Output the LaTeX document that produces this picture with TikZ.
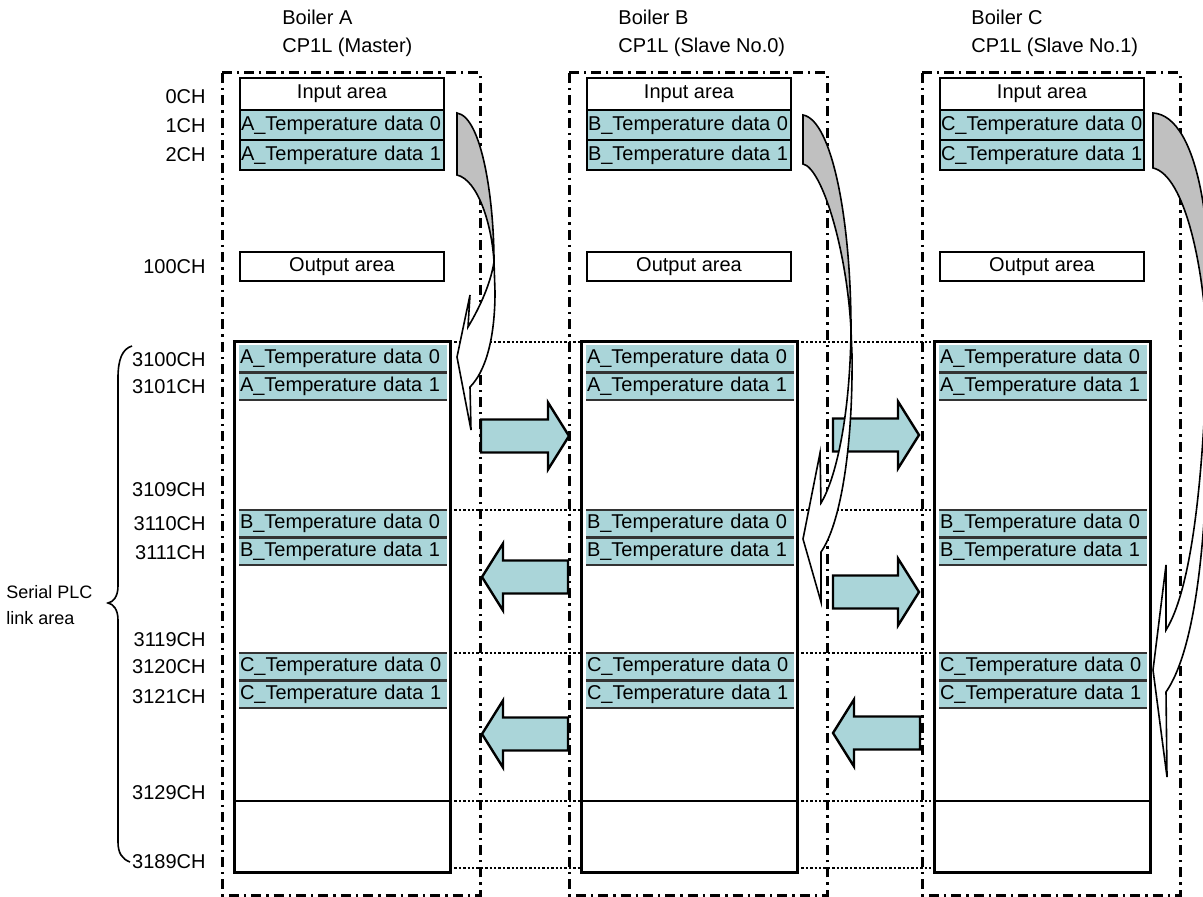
\documentclass[tikz,border=0pt]{standalone}
\usepackage{fontspec}
\setmainfont{Liberation Sans}
\definecolor{slotcol}{RGB}{170,213,217}
\definecolor{twistgray}{RGB}{192,192,192}
\definecolor{sepgray}{RGB}{51,51,51}
\begin{document}
\begin{tikzpicture}[x=0.5pt, y=-0.5pt,
  frame/.style={line width=1.5pt, dash pattern=on 5pt off 2.5pt on 1.2pt off 2.5pt},
  area/.style={draw, line width=1pt, fill=white, anchor=north west, outer sep=0pt,
               minimum width=102pt, minimum height=#1, inner sep=0pt},
  data/.style={area=15pt, fill=slotcol, text width=101pt, align=left, inner xsep=0.5pt},
  linkbox/.style={draw, line width=1.5pt, anchor=north west, outer sep=0pt,
                  minimum width=108pt, minimum height=265pt, inner sep=0pt},
  slot/.style={fill=slotcol, anchor=north west, outer sep=0pt, minimum height=13.75pt,
               text width=103pt, inner xsep=0.5pt, inner ysep=0pt, align=left},
  sep/.style={draw=sepgray, line width=1.3pt},
  link/.style={line width=1.3pt, dash pattern=on 1.2pt off 1pt},
  chlbl/.style={anchor=east, inner sep=0pt},
  xfer/.style={draw, fill=slotcol, line width=1.2pt, line join=miter},
  back/.style={draw, fill=twistgray, line width=0.8pt},
  front/.style={draw, fill=white, line width=0.8pt},
]
\useasboundingbox (0,0) rectangle (1203,897);
% one column per boiler
\foreach \c/\fx/\hx/\role in {A/222/282/Master, B/569/618/Slave No.0, C/922/971/Slave No.1} {
  \draw[frame] (\fx,73) rectangle ({\fx+258},895);
  \node[anchor=base west, inner sep=0pt] (name\c) at (\hx,25) {Boiler \c};
  \node[anchor=base west, inner sep=0pt] (plc\c) at (\hx,53) {CP1L (\role)};
  \node[area=16pt] (in\c) at ({\fx+18},78) {Input area};
  \node[data] (d0\c) at (in\c.south west) {\c\_Temperature data 0};
  \node[data] (d1\c) at (d0\c.south west) {\c\_Temperature data 1};
  \node[area=14.5pt] (out\c) at ({\fx+18},252) {Output area};
  \node[linkbox] (link\c) at ({\fx+12},342) {};
  \node[slot] (a0\c) at ({\fx+17},345) {A\_Temperature data 0};
  \node[slot] (a1\c) at (a0\c.south west) {A\_Temperature data 1};
  \node[slot] (b0\c) at ({\fx+17},510) {B\_Temperature data 0};
  \node[slot] (b1\c) at (b0\c.south west) {B\_Temperature data 1};
  \node[slot] (c0\c) at ({\fx+17},653) {C\_Temperature data 0};
  \node[slot] (c1\c) at (c0\c.south west) {C\_Temperature data 1};
  \foreach \r in {a0,a1,b0,b1,c0,c1} \draw[sep] (\r\c.south west) -- (\r\c.south east);
  \draw[sep] (b0\c.north west) -- (b0\c.north east);
  \draw[sep] (c0\c.north west) -- (c0\c.north east);
  \coordinate (r29\c) at ({\fx+12},801);
  \draw[line width=0.8pt] (r29\c) -- ++(216,0);
}
% channel numbers
\foreach \nm/\yy in {0/97, 1/126, 2/155, 100/267, 3100/360, 3101/387, 3109/490, 3110/524,
                     3111/553, 3119/640, 3120/667, 3121/697, 3129/793, 3189/862}
  \node[chlbl] (ch\nm) at (206,\yy) {\nm CH};
\draw[line width=0.8pt] (132,346) .. controls (122,349) and (118,360) .. (118,378) -- (118,586)
  .. controls (118,597) and (113,602) .. (108,603) .. controls (113,604) and (118,609) .. (118,620)
  -- (118,842) .. controls (118,853) and (122,859) .. (130,862);
\node[anchor=west, align=left, inner sep=0pt, font=\fontsize{9}{13}\selectfont] (plcarea) at (6,605) {Serial PLC\\link area};
% dotted guides between link areas
\foreach \p/\q in {A/B, B/C} {
  \draw[link] (link\p.north east) -- (link\q.north west);
  \draw[link] (link\p.east |- b0\p.north) -- (link\q.west |- b0\p.north);
  \draw[link] (link\p.east |- c0\p.north) -- (link\q.west |- c0\p.north);
  \draw[link] (link\p.east |- r29\p) -- (link\q.west |- r29\p);
  \draw[link] ([yshift=2pt]link\p.south east) -- ([yshift=2pt]link\q.south west);
}
% block arrows: tail / tip / head base / centre
\foreach \xa/\xb/\hb/\yc in {481/569/548/436, 833/919/898/435, 833/919/898/592,
                             568/482/503/577, 568/482/503/734, 920/833/854/733}
  \draw[xfer] (\xa,{\yc-16.5}) -- (\hb,{\yc-16.5}) -- (\hb,{\yc-33.5}) -- (\xb,\yc)
    -- (\hb,{\yc+33.5}) -- (\hb,{\yc+16.5}) -- (\xa,{\yc+16.5}) -- cycle;
% curved copy arrows
\draw[back] (457,113) .. controls (482,117) and (494,200) .. (494,262)
  .. controls (492,225) and (478,180) .. (457,175) -- cycle;
\draw[front] (494,262) .. controls (490,287) and (477,312) .. (468,327) -- (470,295) -- (457,357)
  -- (471,430) -- (470,387) .. controls (485,372) and (495,340) .. (495,292) -- cycle;
\draw[back] (803,115) .. controls (832,120) and (851,220) .. (851,330)
  .. controls (847,250) and (822,168) .. (803,164) -- cycle;
\draw[front] (851,330) .. controls (850,420) and (835,480) .. (821,503) -- (820,453) -- (803,539)
  -- (821,602) -- (821,552) .. controls (840,525) and (853,450) .. (852,355) -- cycle;
\draw[back] (1153,113) .. controls (1200,116) and (1216,240) .. (1207,350)
  .. controls (1205,270) and (1185,175) .. (1153,168) -- cycle;
\draw[front] (1207,350) .. controls (1204,460) and (1194,585) .. (1166,630) -- (1166,565) -- (1153,670)
  -- (1167,777) -- (1166,692) .. controls (1195,650) and (1209,540) .. (1208,375) -- cycle;
\end{tikzpicture}
\end{document}
